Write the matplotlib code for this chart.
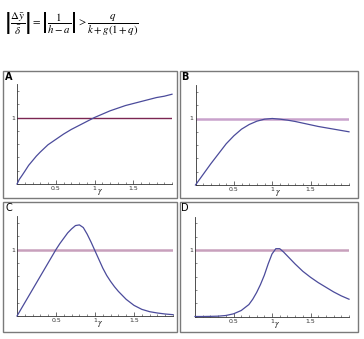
import matplotlib
matplotlib.use("Agg")
import matplotlib.pyplot as plt
from matplotlib.patches import Rectangle
from matplotlib.ticker import MultipleLocator, FixedLocator

plt.rcParams['mathtext.fontset'] = 'stix'

# ---- data ----
xs_a = [0.0, 0.03, 0.06, 0.1, 0.15, 0.2, 0.25, 0.3, 0.4, 0.5, 0.6, 0.7, 0.8, 0.9, 1.0,
        1.1, 1.2, 1.3, 1.4, 1.5, 1.6, 1.7, 1.8, 1.9, 2.0]
curve_a = [0.0, 0.07, 0.12, 0.19, 0.28, 0.35, 0.42, 0.48, 0.59, 0.67, 0.75, 0.82, 0.88, 0.94, 1.0,
           1.05, 1.10, 1.14, 1.18, 1.21, 1.24, 1.27, 1.30, 1.32, 1.35]
xs_b = [0.0, 0.1, 0.2, 0.3, 0.4, 0.5, 0.6, 0.7, 0.8, 0.9, 1.0,
        1.1, 1.2, 1.3, 1.4, 1.5, 1.6, 1.7, 1.8, 1.9, 2.0]
curve_b = [0.0, 0.16, 0.32, 0.47, 0.62, 0.74, 0.84, 0.91, 0.96, 0.99, 1.0,
           0.99, 0.975, 0.955, 0.93, 0.905, 0.88, 0.86, 0.84, 0.82, 0.80]
xs_c = [0.0, 0.1, 0.2, 0.3, 0.4, 0.5, 0.55, 0.6, 0.65, 0.7, 0.75, 0.8, 0.85, 0.9, 0.95, 1.0,
        1.05, 1.1, 1.15, 1.2, 1.25, 1.3, 1.4, 1.5, 1.6, 1.7, 1.8, 1.9, 2.0]
curve_c = [0.0, 0.2, 0.4, 0.6, 0.8, 1.0, 1.09, 1.17, 1.25, 1.31, 1.36, 1.37, 1.33, 1.23, 1.11, 0.98,
           0.85, 0.72, 0.61, 0.52, 0.44, 0.37, 0.25, 0.16, 0.10, 0.065, 0.045, 0.03, 0.02]
xs_d = [0.0, 0.1, 0.2, 0.3, 0.4, 0.5, 0.6, 0.7, 0.75, 0.8, 0.85, 0.9, 0.95, 1.0, 1.05,
        1.1, 1.15, 1.2, 1.3, 1.4, 1.5, 1.6, 1.7, 1.8, 1.9, 2.0]
curve_d = [0.0, 0.0, 0.002, 0.005, 0.015, 0.04, 0.09, 0.18, 0.26, 0.36, 0.48, 0.62, 0.79, 0.94, 1.02,
           1.02, 0.97, 0.91, 0.79, 0.68, 0.59, 0.51, 0.44, 0.37, 0.31, 0.26]
threshold = 1.0
panel_letters = ["A", "B", "C", "D"]
xtick_vals = [0.5, 1.0, 1.5]
xtick_labels = ["0.5", "1", "1.5"]

W, H = 364, 339
fig = plt.figure(figsize=(W / 100, H / 100), dpi=100)

def fx(px):
    return px / W

def fy(py):
    return 1 - py / H

# equation
fig.text(fx(4), fy(24),
         r'$\left|\dfrac{\Delta\bar{y}}{\bar{\delta}}\right| = \left|\dfrac{1}{h-a}\right| > \dfrac{q}{k+g\left(1+q\right)}$',
         fontsize=7.8, ha='left', va='center')

# panel frames (px: left, top, right, bottom)
frames = [(3, 71, 177, 198), (179.5, 71, 358, 198),
          (3, 202, 177, 332), (179.5, 202, 358, 332)]
for (l, t, r, b) in frames:
    fig.patches.append(Rectangle((fx(l), fy(b)), fx(r) - fx(l), fy(t) - fy(b),
                                 transform=fig.transFigure, fill=False,
                                 edgecolor='#7a7a7a', lw=1.0))

# axes positions (px: x0, x2, y0 pixel)
axes_px = [(17, 172, 184), (195.5, 349, 185), (17, 173, 316), (195, 349, 316.5)]
unit_y = 66.5
series = [(xs_a, curve_a), (xs_b, curve_b), (xs_c, curve_c), (xs_d, curve_d)]
line_colors = ['#7b2652', '#c9a2cc', '#c8a0bc', '#c8a0bc']
line_widths = [1.0, 1.8, 1.8, 1.8]
letter_weights = ['bold', 'bold', 'normal', 'normal']

for i, ((x0, x2, y0), (sx, sy)) in enumerate(zip(axes_px, series)):
    ymax = 1.5
    top = y0 - ymax * unit_y
    ax = fig.add_axes([fx(x0), fy(y0), fx(x2) - fx(x0), (y0 - top) / H])
    ax.set_xlim(0, 2)
    ax.set_ylim(0, ymax)
    ax.patch.set_alpha(0)
    for s in ['top', 'right']:
        ax.spines[s].set_visible(False)
    for s in ['left', 'bottom']:
        ax.spines[s].set_linewidth(0.6)
        ax.spines[s].set_color('#333333')
    ax.axhline(threshold, color=line_colors[i], lw=line_widths[i], zorder=2)
    ax.plot(sx, sy, color='#4b4b9b', lw=0.9, zorder=3, clip_on=False,
            solid_joinstyle='round')
    ax.xaxis.set_major_locator(FixedLocator(xtick_vals))
    ax.set_xticklabels(xtick_labels)
    ax.xaxis.set_minor_locator(MultipleLocator(0.1))
    ax.yaxis.set_major_locator(FixedLocator([1.0]))
    ax.set_yticklabels(["1"])
    ax.yaxis.set_minor_locator(MultipleLocator(0.2))
    ax.tick_params(axis='both', which='major', direction='in', length=3,
                   width=0.5, labelsize=4.5, pad=1.5, colors='#333333')
    ax.tick_params(axis='both', which='minor', direction='in', length=1.5,
                   width=0.4, colors='#333333')
    ax.text(1.07, -0.05, r'$\gamma$', fontsize=6.5, ha='center', va='top',
            transform=ax.transData, clip_on=False)
    l, t, r, b = frames[i]
    fig.text(fx(l + 2), fy(t + 6), panel_letters[i], fontsize=7,
             fontweight=letter_weights[i], ha='left', va='center')

fig.savefig('out.png', dpi=100)
